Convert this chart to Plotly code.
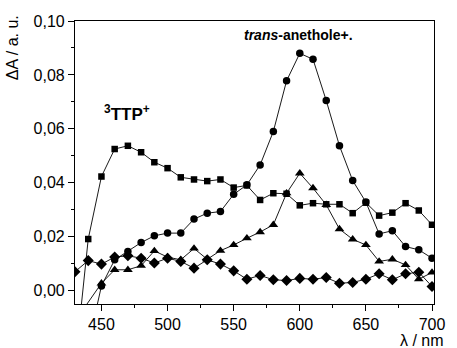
import plotly.graph_objects as go

wavelength = [430, 440, 450, 460, 470, 480, 490, 500, 510, 520, 530, 540, 550, 560, 570,
              580, 590, 600, 610, 620, 630, 640, 650, 660, 670, 680, 690, 700]

# 3TTP+ (squares)
squares = [-0.028, 0.0191, 0.0423, 0.0525, 0.0537, 0.0513, 0.0476, 0.0454, 0.0420, 0.0412,
           0.0406, 0.0412, 0.0382, 0.0390, 0.0336, 0.0361, 0.0359, 0.0316, 0.0324, 0.0320,
           0.0320, 0.0287, 0.0326, 0.0278, 0.0289, 0.0324, 0.0297, 0.0244]
# trans-anethole radical cation (circles)
circles = [None, -0.0203, 0.0017, 0.0114, 0.0145, 0.0178, 0.0203, 0.0213, 0.0213, 0.0265,
           0.0287, 0.0293, 0.0357, 0.0392, 0.0466, 0.0590, 0.0778, 0.0880, 0.0858, 0.0705,
           0.0537, 0.0408, 0.0328, 0.0210, 0.0222, 0.0163, 0.0151, 0.0120]
# triangles
triangles = [-0.0114, None, 0.0027, 0.0077, 0.0077, 0.0092, 0.0147, 0.0124, 0.0114, 0.0156,
             0.0116, 0.0148, 0.0169, 0.0194, 0.0217, 0.0244, 0.0361, 0.0435, 0.0380, 0.0318,
             0.0228, 0.0190, 0.0169, 0.0108, 0.0116, 0.0095, 0.0042, 0.0067]
# diamonds
diamonds = [0.0070, 0.0111, 0.0098, 0.0124, 0.0129, 0.0120, 0.0102, 0.0120, 0.0108, 0.0083,
            0.0114, 0.0098, 0.0073, 0.0042, 0.0056, 0.0040, 0.0037, 0.0045, 0.0042, 0.0048,
            0.0027, 0.0030, 0.0042, 0.0062, 0.0040, 0.0062, 0.0068, 0.0015]

x_ticks = [450, 500, 550, 600, 650, 700]
y_ticks = [0.00, 0.02, 0.04, 0.06, 0.08, 0.10]

FONT = "Liberation Sans, Arial, sans-serif"

fig = go.Figure()
series = [(squares, "square", 6.5), (circles, "circle", 7.5),
          (triangles, "triangle-up", 8.5), (diamonds, "diamond", 8.5)]
for vals, sym, sz in series:
    fig.add_trace(go.Scatter(
        x=wavelength, y=vals, mode="lines+markers",
        line=dict(color="black", width=0.9),
        marker=dict(symbol=sym, size=sz, color="black", line=dict(width=0)),
        connectgaps=True, showlegend=False, cliponaxis=True))

axis_common = dict(showline=True, linecolor="black", linewidth=1.2, mirror=True,
                   ticks="outside", ticklen=6, tickwidth=1, tickcolor="black",
                   showgrid=False, zeroline=False,
                   tickfont=dict(family=FONT, size=16, color="black"))

fig.update_xaxes(range=[430, 701.5], tickvals=x_ticks,
                 minor=dict(ticks="outside", ticklen=3, dtick=25, tick0=425,
                            tickcolor="black", tickwidth=1, showgrid=False),
                 **axis_common)
fig.update_yaxes(range=[-0.005, 0.10], tickvals=y_ticks, tickformat=".2f",
                 minor=dict(ticks="outside", ticklen=3, dtick=0.01, tick0=0,
                            tickcolor="black", tickwidth=1, showgrid=False),
                 **axis_common)

fig.add_annotation(text="ΔA / a. u.", textangle=-90, xref="paper", yref="paper",
                   x=-0.172, y=0.905, xanchor="center", yanchor="middle", showarrow=False,
                   font=dict(family=FONT, size=16, color="black"))
fig.add_annotation(text="λ / nm", xref="paper", yref="paper",
                   x=0.966, y=-0.128, xanchor="center", yanchor="middle", showarrow=False,
                   font=dict(family=FONT, size=16, color="black"))
fig.add_annotation(text="<b><i>trans</i>-anethole+.</b>", xref="paper", yref="paper",
                   x=0.464, y=0.951, xanchor="left", yanchor="middle", showarrow=False,
                   font=dict(family=FONT, size=14, color="black"))
fig.add_annotation(text="<b><sup>3</sup>TTP<sup>+</sup></b>", xref="paper", yref="paper",
                   x=0.076, y=0.675, xanchor="left", yanchor="middle", showarrow=False,
                   font=dict(family=FONT, size=17, color="black"))

fig.update_layout(width=457, height=348, separators=", ",
                  margin=dict(l=75, r=13, t=21, b=44),
                  plot_bgcolor="white", paper_bgcolor="white",
                  font=dict(family=FONT, color="black"))

fig.write_html("out.html", config={"displayModeBar": False},
               post_script="document.body.style.margin='0';document.body.style.overflow='hidden';")
